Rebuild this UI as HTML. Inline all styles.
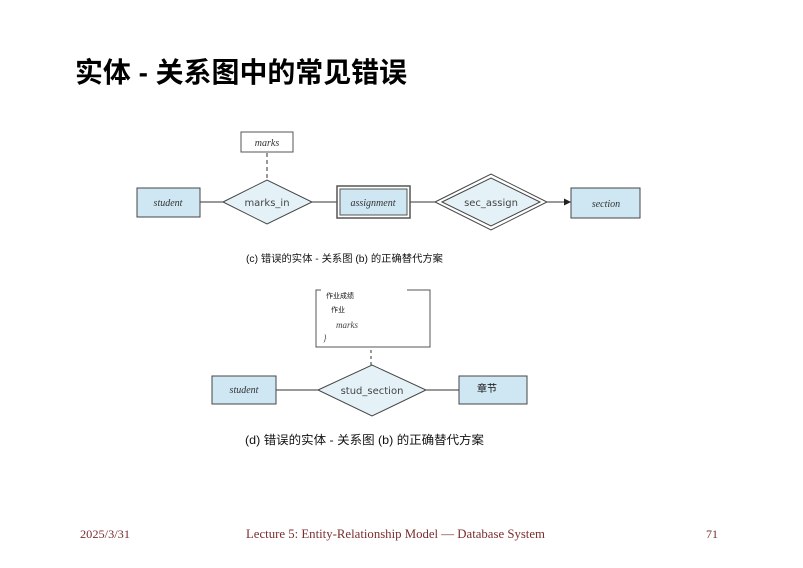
<!DOCTYPE html>
<html><head><meta charset="utf-8"><style>
body{margin:0;background:#fff;}
svg{display:block}
.cj{font-family:"Liberation Sans","Noto Sans CJK SC",sans-serif;}
.it{font-family:"Liberation Serif",serif;font-style:italic;}
.sa{font-family:"DejaVu Sans","Liberation Sans",sans-serif;}
</style></head><body>
<svg width="803" height="568" viewBox="0 0 803 568" xmlns="http://www.w3.org/2000/svg">
<text x="75" y="82" class="cj" font-size="28" font-weight="bold" fill="#000" textLength="332" lengthAdjust="spacingAndGlyphs">实体 - 关系图中的常见错误</text>

<!-- diagram c -->
<rect x="241" y="132" width="52" height="20" fill="#fff" stroke="#555" stroke-width="1"/>
<text x="267" y="146" class="it" font-size="10" text-anchor="middle" fill="#333">marks</text>
<line x1="267" y1="153" x2="267" y2="180" stroke="#333" stroke-dasharray="4,3"/>
<line x1="200" y1="202" x2="571" y2="202" stroke="#333"/>
<rect x="137" y="188" width="63" height="29" fill="#cfe6f3" stroke="#444"/>
<text x="168" y="206" class="it" font-size="10" text-anchor="middle" fill="#333">student</text>
<polygon points="223,202 267,180 312,202 267,224" fill="#e4f2f8" stroke="#444"/>
<text x="267" y="206" class="sa" font-size="10" text-anchor="middle" fill="#444">marks_in</text>
<rect x="337" y="186" width="73" height="32" fill="#fff" stroke="#555" stroke-width="1.5"/>
<rect x="340" y="189" width="67" height="26" fill="#cfe6f3" stroke="#555"/>
<text x="373" y="206" class="it" font-size="10" text-anchor="middle" fill="#333">assignment</text>
<polygon points="435,202 491,174 547,202 491,230" fill="#fff" stroke="#444"/>
<polygon points="442,202 491,178 540,202 491,226" fill="#e4f2f8" stroke="#444"/>
<text x="491" y="206" class="sa" font-size="10" text-anchor="middle" fill="#444">sec_assign</text>
<polygon points="571,202 564,198.5 564,205.5" fill="#222"/>
<rect x="571" y="188" width="69" height="30" fill="#cfe6f3" stroke="#444"/>
<text x="606" y="207" class="it" font-size="10" text-anchor="middle" fill="#333">section</text>
<text x="246" y="262" class="cj" font-size="10" fill="#111" textLength="197" lengthAdjust="spacingAndGlyphs">(c) 错误的实体 - 关系图 (b) 的正确替代方案</text>

<!-- diagram d -->
<path d="M321,290 L316,290 L316,347 L430,347 L430,290 L407,290" fill="none" stroke="#555"/>
<text x="326" y="298" class="cj" font-size="7" fill="#111">作业成绩</text>
<text x="331" y="312" class="cj" font-size="7" fill="#111">作业</text>
<text x="336" y="328" class="it" font-size="9" fill="#444">marks</text>
<text x="323" y="341" class="it" font-size="9" fill="#444">}</text>
<line x1="371" y1="350" x2="371" y2="365" stroke="#333" stroke-dasharray="3,3"/>
<line x1="276" y1="390" x2="459" y2="390" stroke="#333"/>
<rect x="212" y="376" width="64" height="28" fill="#cfe6f3" stroke="#444"/>
<text x="244" y="393" class="it" font-size="10" text-anchor="middle" fill="#333">student</text>
<polygon points="318,390 372,365 426,390 372,416" fill="#e4f2f8" stroke="#444"/>
<text x="372" y="394" class="sa" font-size="10" text-anchor="middle" fill="#444">stud_section</text>
<rect x="459" y="376" width="68" height="28" fill="#cfe6f3" stroke="#444"/>
<text x="477" y="392" class="cj" font-size="10" fill="#111">章节</text>
<text x="245" y="444" class="cj" font-size="12" fill="#111" textLength="239" lengthAdjust="spacingAndGlyphs">(d) 错误的实体 - 关系图 (b) 的正确替代方案</text>

<!-- footer -->
<text x="80" y="538" font-family="Liberation Serif,serif" font-size="12" fill="#7a2e2e" textLength="50" lengthAdjust="spacingAndGlyphs">2025/3/31</text>
<text x="246" y="538" font-family="Liberation Serif,serif" font-size="12.5" fill="#7a2e2e" textLength="299" lengthAdjust="spacingAndGlyphs">Lecture 5: Entity-Relationship Model — Database System</text>
<text x="706" y="538" font-family="Liberation Serif,serif" font-size="12" fill="#7a2e2e">71</text>
</svg>
</body></html>
